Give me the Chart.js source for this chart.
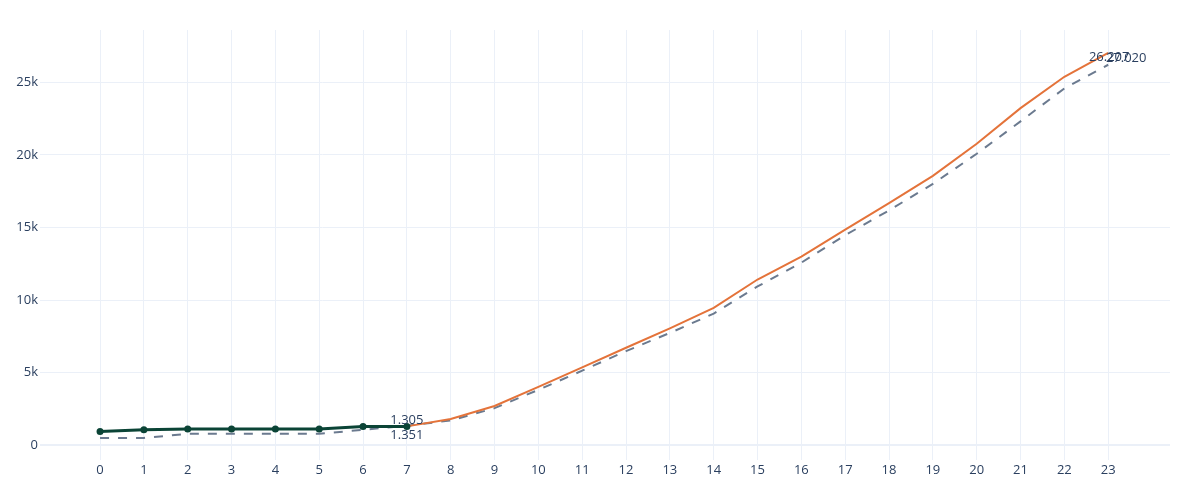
<!DOCTYPE html>
<html>
<head>
<meta charset="utf-8">
<script src="https://cdn.jsdelivr.net/npm/chart.js@4.4.1/dist/chart.umd.min.js"></script>
<style>
  html, body { margin: 0; padding: 0; background: #ffffff; }
  #wrap { width: 1200px; height: 500px; }
</style>
</head>
<body>
<div id="wrap"><canvas id="c" width="1200" height="500"></canvas></div>
<script>
const days = [0,1,2,3,4,5,6,7,8,9,10,11,12,13,14,15,16,17,18,19,20,21,22,23];
const actualDays = [0,1,2,3,4,5,6,7];
const actualValues = [959,1075,1123,1123,1123,1123,1300,1305];
const forecastDays = [7,8,9,10,11,12,13,14,15,16,17,18,19,20,21,22,23];
const forecastValues = [1305,1820,2710,4030,5370,6720,8050,9460,11420,13000,14860,16680,18560,20770,23220,25380,27020];
const modelValues = [507,507,790,790,790,790,1070,1351,1710,2560,3820,5140,6490,7740,9070,10940,12580,14470,16180,18000,20080,22310,24580,26207];
const yTicks = [0,5000,10000,15000,20000,25000];

const labelled = [
  { ds: 2, idx: 7, dx: 0, dy: -6.5 },   // 1.305 actual
  { ds: 0, idx: 7, dx: 0, dy: 10 },     // 1.351 model
  { ds: 0, idx: 23, dx: 1, dy: -7.5 },  // 26.207 model
  { ds: 1, idx: 16, dx: 18, dy: 5.5 }   // 27.020 forecast
];

function fmt(v) {
  return String(Math.round(v)).replace(/\B(?=(\d{3})+(?!\d))/g, '.');
}

const pts = (xs, ys) => xs.map((x, i) => ({ x: x, y: ys[i] }));

const textColor = '#2a3f5f';
const gridColor = '#ebf0f8';
const fontFamily = '"Open Sans", "DejaVu Sans", sans-serif';

const labelPlugin = {
  id: 'valueLabels',
  afterDatasetsDraw(chart) {
    const ctx = chart.ctx;
    ctx.save();
    ctx.font = '13px ' + fontFamily;
    ctx.fillStyle = textColor;
    ctx.textAlign = 'center';
    ctx.textBaseline = 'middle';
    labelled.forEach(l => {
      const el = chart.getDatasetMeta(l.ds).data[l.idx];
      const v = chart.data.datasets[l.ds].data[l.idx].y;
      ctx.fillText(fmt(v), el.x + l.dx, el.y + l.dy);
    });
    ctx.restore();
  }
};

const bgPlugin = {
  id: 'bg',
  beforeDraw(chart) {
    const ctx = chart.ctx;
    ctx.save();
    ctx.fillStyle = '#ffffff';
    ctx.fillRect(0, 0, chart.width, chart.height);
    ctx.restore();
  }
};

new Chart(document.getElementById('c'), {
  type: 'line',
  data: {
    datasets: [
      {
        label: 'Modell',
        data: pts(days, modelValues),
        borderColor: '#6b7a8f',
        borderWidth: 2,
        borderDash: [9, 9],
        pointRadius: 0,
        tension: 0,
        fill: false,
        order: 3
      },
      {
        label: 'Prognose',
        data: pts(forecastDays, forecastValues),
        borderColor: '#e4733a',
        borderWidth: 2,
        pointRadius: 0,
        tension: 0,
        fill: false,
        order: 2
      },
      {
        label: 'Ist',
        data: pts(actualDays, actualValues),
        borderColor: '#0b4436',
        backgroundColor: '#0b4436',
        borderWidth: 3,
        pointRadius: 3.5,
        pointBorderWidth: 0,
        pointBackgroundColor: '#0b4436',
        tension: 0,
        fill: false,
        order: 1
      }
    ]
  },
  options: {
    responsive: false,
    animation: false,
    events: [],
    layout: { padding: { top: 30, right: 30, left: 0, bottom: 0 } },
    plugins: {
      legend: { display: false },
      tooltip: { enabled: false }
    },
    scales: {
      x: {
        type: 'linear',
        min: -1.37,
        max: 24.41,
        afterBuildTicks(scale) {
          scale.ticks = days.map(v => ({ value: v }));
        },
        afterFit(scale) { scale.height = 40; },
        border: { display: false },
        grid: { color: gridColor, lineWidth: 1, drawTicks: false },
        ticks: {
          padding: 2,
          color: textColor,
          font: { family: fontFamily, size: 13 },
          maxRotation: 0,
          autoSkip: false,
          callback: v => String(v)
        }
      },
      y: {
        type: 'linear',
        min: -1010,
        max: 28600,
        afterBuildTicks(scale) {
          scale.ticks = yTicks.map(v => ({ value: v }));
        },
        afterFit(scale) { scale.width = 40; },
        border: { display: false },
        grid: {
          color: gridColor,
          lineWidth: ctx => (ctx.tick && ctx.tick.value === 0 ? 2 : 1),
          drawTicks: false
        },
        ticks: {
          padding: 2,
          color: textColor,
          font: { family: fontFamily, size: 13 },
          autoSkip: false,
          callback: v => (v === 0 ? '0' : (v / 1000) + 'k')
        }
      }
    }
  },
  plugins: [bgPlugin, labelPlugin]
});
</script>
</body>
</html>
